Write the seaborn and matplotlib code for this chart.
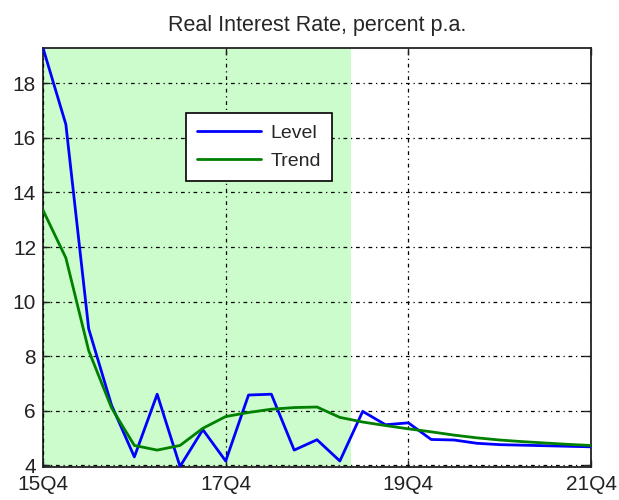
import pandas as pd
import matplotlib
matplotlib.use("Agg")
import matplotlib.pyplot as plt
import seaborn as sns

# Quarterly path, 15Q4 .. 21Q4
quarters = ["15Q4", "16Q1", "16Q2", "16Q3", "16Q4", "17Q1", "17Q2", "17Q3", "17Q4",
            "18Q1", "18Q2", "18Q3", "18Q4", "19Q1", "19Q2", "19Q3", "19Q4",
            "20Q1", "20Q2", "20Q3", "20Q4", "21Q1", "21Q2", "21Q3", "21Q4"]
level = [19.3, 16.5, 9.0, 6.2, 4.3, 6.6, 3.95, 5.3, 4.15, 6.57, 6.6, 4.55, 4.93, 4.15,
         5.97, 5.48, 5.55, 4.94, 4.92, 4.8, 4.75, 4.73, 4.71, 4.69, 4.67]
trend = [13.35, 11.6, 8.2, 6.1, 4.72, 4.55, 4.72, 5.35, 5.78, 5.93, 6.05, 6.11, 6.13,
         5.75, 5.58, 5.45, 5.33, 5.22, 5.1, 5.0, 4.92, 4.86, 4.81, 4.76, 4.72]
tick_labels = ["15Q4", "17Q4", "19Q4", "21Q4"]
shade_end = "19Q1"

df = pd.DataFrame({"t": range(len(quarters)), "quarter": quarters,
                   "Level": level, "Trend": trend})
long = df.melt(id_vars=["t", "quarter"], value_vars=["Level", "Trend"],
               var_name="series", value_name="value")

sns.set_theme(style="white")
plt.rcParams["font.family"] = ["Liberation Sans", "DejaVu Sans"]

fig = plt.figure(figsize=(6.19, 5.0), dpi=100)
ax = fig.add_axes([0.0695, 0.066, 0.8853, 0.838])

# highlighted history range
ax.axvspan(-0.5, quarters.index(shade_end) + 0.5, color="#ccfccc", lw=0, zorder=0)

sns.lineplot(data=long, x="t", y="value", hue="series",
             palette={"Level": "#0000ff", "Trend": "#008000"},
             linewidth=2.0, ax=ax, zorder=3)

ax.set_xlim(0, len(quarters) - 1)
ax.set_ylim(3.93, 19.3)
ax.set_xticks([quarters.index(q) for q in tick_labels])
ax.set_xticklabels(tick_labels)
ax.set_yticks(range(4, 19, 2))
ax.set_xlabel("")
ax.set_ylabel("")
ax.set_title("Real Interest Rate, percent p.a.", fontsize=15.5, pad=12)

ax.grid(True, color="black", linestyle=(0, (3, 3, 1, 3)), linewidth=0.9, zorder=1)
ax.set_axisbelow(False)
for s in ax.spines.values():
    s.set_color("#222222")
    s.set_linewidth(1.3)
ax.tick_params(direction="in", length=5, width=1, colors="#222222",
               labelcolor="#222222", labelsize=15, top=True, right=True,
               bottom=True, left=True)
ax.tick_params(axis="x", pad=6)
ax.tick_params(axis="y", pad=5)

leg = ax.legend(loc="upper left", bbox_to_anchor=(0.261, 0.844), borderaxespad=0,
                fontsize=14, fancybox=False, framealpha=1, handlelength=3.3,
                handletextpad=0.5, borderpad=0.55, labelspacing=0.55)
leg.get_frame().set_edgecolor("black")
leg.get_frame().set_linewidth(1.2)
leg.set_zorder(5)

fig.savefig("out.png", dpi=100)
